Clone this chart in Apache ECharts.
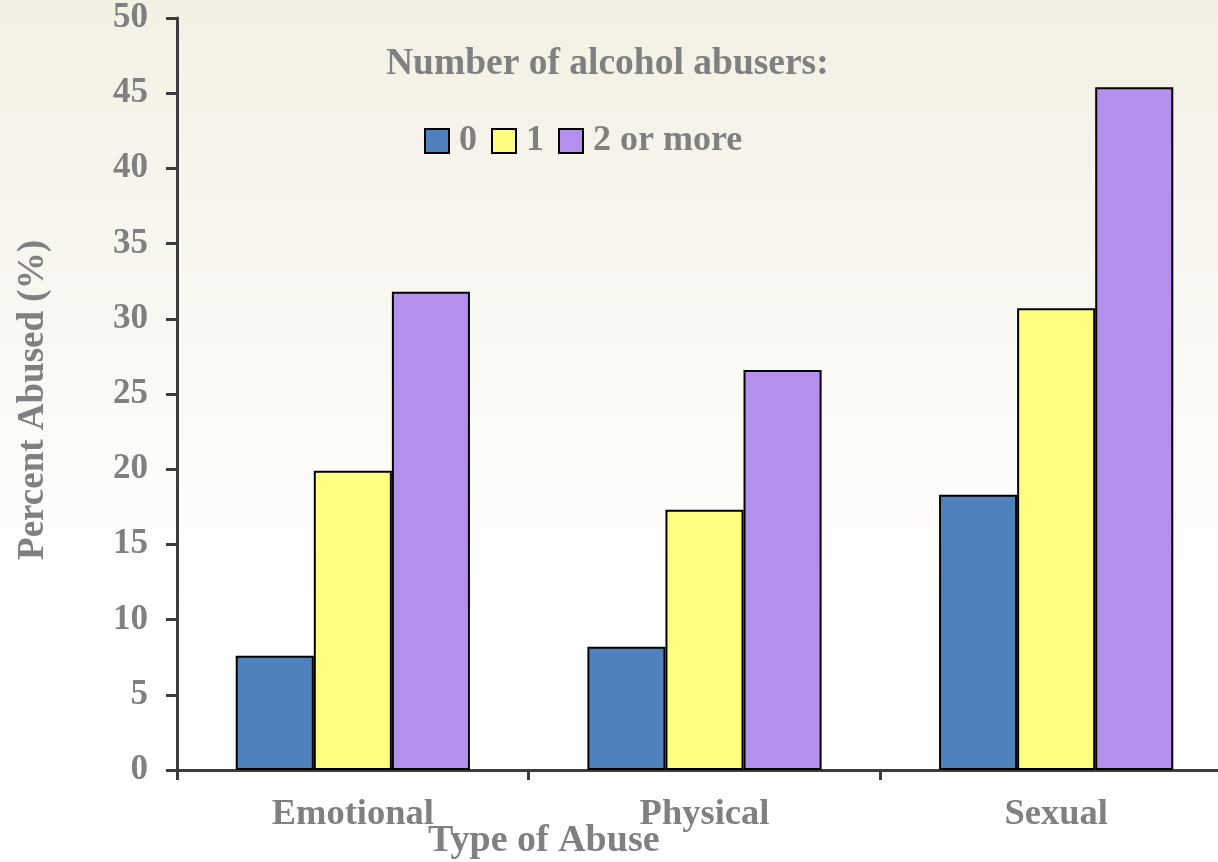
<!DOCTYPE html>
<html>
<head>
<meta charset="utf-8">
<script src="https://cdn.jsdelivr.net/npm/echarts@6/dist/echarts.min.js"></script>
<style>
html,body{margin:0;padding:0;width:1218px;height:862px;overflow:hidden;}
#c{width:1232px;height:862px;}
</style>
</head>
<body>
<div id="c"></div>
<script>
const categories = ['Emotional', 'Physical', 'Sexual'];
const seriesNames = ['0', '1', '2 or more'];
const values0 = [7.6, 8.2, 18.3];
const values1 = [19.9, 17.3, 30.7];
const values2 = [31.8, 26.6, 45.4];
const yTicks = [0, 5, 10, 15, 20, 25, 30, 35, 40, 45, 50];
const colors = ['#4f81bd', '#ffff80', '#b390ee'];

const FONT = '"Liberation Serif", "Times New Roman", serif';
const GRAY = '#808080';
const AXIS = '#3c3c3c';

const chart = echarts.init(document.getElementById('c'));
const allValues = [values0, values1, values2];

chart.setOption({
  backgroundColor: {
    type: 'linear', x: 0, y: 0, x2: 0, y2: 1,
    colorStops: [
      {offset: 0, color: '#f3f0e4'},
      {offset: 0.72, color: '#ffffff'},
      {offset: 1, color: '#ffffff'}
    ]
  },
  animation: false,
  grid: {left: 177, right: 0, top: 18, bottom: 92, containLabel: false},
  title: {
    text: 'Number of alcohol abusers:',
    left: 381, top: 40,
    textStyle: {fontFamily: FONT, fontWeight: 'bold', fontSize: 37.5, color: GRAY}
  },
  legend: {
    left: 419, top: 118,
    itemWidth: 24, itemHeight: 24, itemGap: 14,
    icon: 'rect',
    textStyle: {fontFamily: FONT, fontWeight: 'bold', fontSize: 36, color: GRAY, padding: [0, 0, 0, 5]},
    data: seriesNames
  },
  xAxis: {
    type: 'category',
    data: categories,
    axisLine: {lineStyle: {color: AXIS, width: 3}},
    axisTick: {show: true, length: 10, lineStyle: {color: AXIS, width: 3}},
    axisLabel: {fontFamily: FONT, fontWeight: 'bold', fontSize: 36.5, color: GRAY, margin: 26},
    splitLine: {show: false}
  },
  yAxis: {
    type: 'value',
    min: 0, max: 50, interval: 5,
    axisLine: {show: true, lineStyle: {color: AXIS, width: 3}},
    axisTick: {show: true, length: 11, lineStyle: {color: AXIS, width: 3}},
    axisLabel: {fontFamily: FONT, fontWeight: 'bold', fontSize: 35, color: GRAY, margin: 29,
      formatter: v => yTicks.includes(v) ? String(v) : ''},
    splitLine: {show: false},
    name: 'Percent Abused (%)',
    nameLocation: 'middle',
    nameGap: 125,
    nameTextStyle: {fontFamily: FONT, fontWeight: 'bold', fontSize: 37, color: GRAY, padding: [0, 12, 0, 0]}
  },
  graphic: [{
    type: 'text',
    left: 428, top: 822,
    style: {text: 'Type of Abuse', font: 'bold 38px ' + FONT, fill: GRAY}
  }],
  series: seriesNames.map((n, i) => ({
    name: n,
    type: 'bar',
    data: allValues[i],
    barWidth: '22.2%',
    barGap: '0%',
    itemStyle: {color: colors[i], borderColor: '#000', borderWidth: 2}
  }))
});
</script>
</body>
</html>
